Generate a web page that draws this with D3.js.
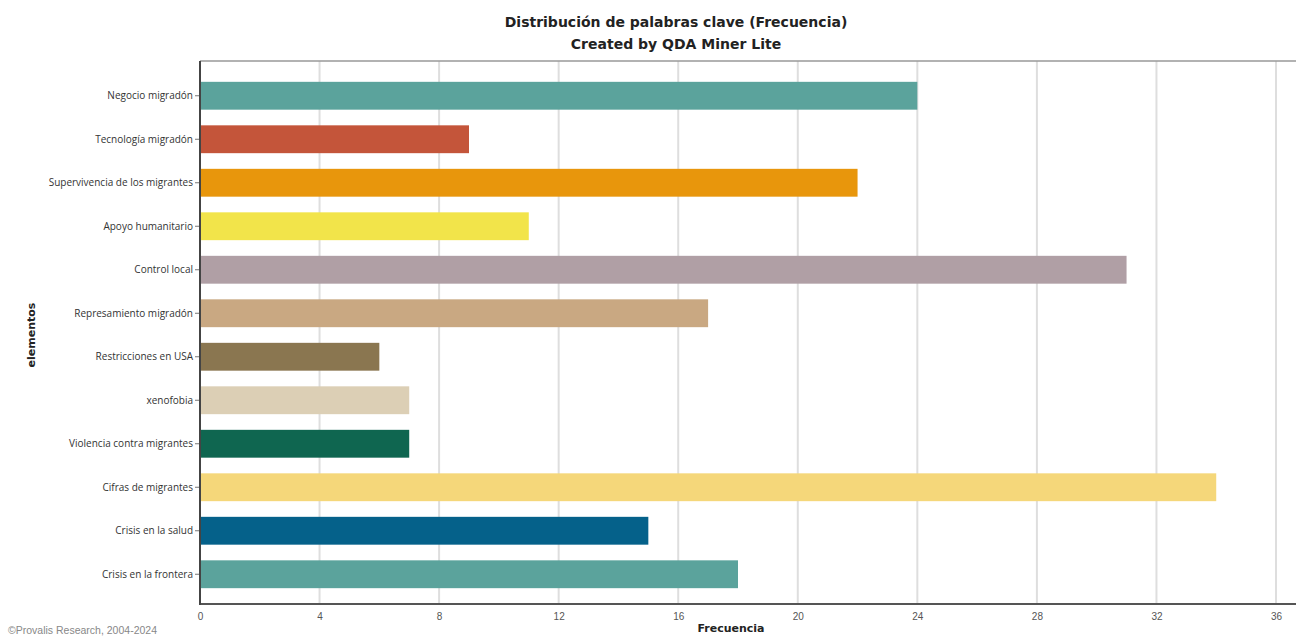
<!DOCTYPE html>
<html><head><meta charset="utf-8">
<script src="https://cdn.jsdelivr.net/npm/d3@7"></script>
<style>body{margin:0;background:#fff}svg{display:block}</style>
</head><body>
<svg id="c" width="1296" height="637"></svg>
<script>
const categories = ["Negocio migradón","Tecnología migradón","Supervivencia de los migrantes","Apoyo humanitario","Control local","Represamiento migradón","Restricciones en USA","xenofobia","Violencia contra  migrantes","Cifras de migrantes","Crisis en la salud","Crisis en la frontera"];
const values = [24, 9, 22, 11, 31, 17, 6, 7, 7, 34, 15, 18];
const colors = ["#5ba39c","#c4553a","#e8960c","#f2e44a","#b09fa5","#c9a882","#8a7650","#dccfb5","#0f6650","#f5d77a","#05618a","#5ba39c"];
const xTicks = [0,4,8,12,16,20,24,28,32,36];

const svg = d3.select("#c");
const L = 200, R = 1296, T = 61, B = 604;
const x = d3.scaleLinear().domain([0, 36]).range([L, 1276]);
const y = d3.scaleBand().domain(categories).range([74, 596]).paddingInner(0.36).paddingOuter(0.18);

// grid
svg.append("g").selectAll("line").data(xTicks.slice(1)).join("line")
  .attr("x1", d => x(d)).attr("x2", d => x(d)).attr("y1", T).attr("y2", B)
  .attr("stroke", "#dedede").attr("stroke-width", 2);
// top border
svg.append("line").attr("x1", L).attr("x2", R).attr("y1", T).attr("y2", T).attr("stroke", "#999").attr("stroke-width", 1.5);

// bars
svg.append("g").selectAll("rect").data(categories).join("rect")
  .attr("x", x(0)).attr("y", d => y(d))
  .attr("width", (d, i) => x(values[i]) - x(0)).attr("height", y.bandwidth())
  .attr("fill", (d, i) => colors[i]);

// x axis
const xa = svg.append("g").attr("transform", `translate(0,${B})`)
  .call(d3.axisBottom(x).tickValues(xTicks).tickSize(0).tickPadding(9));
xa.select(".domain").remove();
svg.append("line").attr("x1", L).attr("x2", R).attr("y1", B).attr("y2", B).attr("stroke", "#555").attr("stroke-width", 2);
xa.selectAll("text").attr("font-family", "Liberation Sans, Arial, sans-serif").attr("font-size", 10).attr("fill", "#555");

// y axis
const ya = svg.append("g").attr("transform", `translate(${L},0)`)
  .call(d3.axisLeft(y).tickSize(5).tickPadding(2));
ya.select(".domain").remove();
ya.selectAll(".tick line").attr("stroke", "#777");
ya.selectAll("text").attr("font-family", "Open Sans, sans-serif").attr("font-size", 10).attr("fill", "#333").attr("dy", "0.35em");
svg.append("line").attr("x1", L).attr("x2", L).attr("y1", T).attr("y2", B + 1).attr("stroke", "#444").attr("stroke-width", 2);

// titles
const tf = "DejaVu Sans, sans-serif";
svg.append("text").attr("x", 676).attr("y", 27).attr("text-anchor", "middle")
  .attr("font-family", tf).attr("font-weight", "bold").attr("font-size", 14).attr("fill", "#222")
  .text("Distribución de palabras clave (Frecuencia)");
svg.append("text").attr("x", 676).attr("y", 49).attr("text-anchor", "middle")
  .attr("font-family", tf).attr("font-weight", "bold").attr("font-size", 14).attr("fill", "#222")
  .text("Created by QDA Miner Lite");

svg.append("text").attr("x", 731).attr("y", 632).attr("text-anchor", "middle")
  .attr("font-family", tf).attr("font-weight", "bold").attr("font-size", 11).attr("fill", "#222")
  .text("Frecuencia");
svg.append("text").attr("transform", "translate(35,335) rotate(-90)").attr("text-anchor", "middle")
  .attr("font-family", tf).attr("font-weight", "bold").attr("font-size", 11).attr("fill", "#222")
  .text("elementos");
svg.append("text").attr("x", 8).attr("y", 634)
  .attr("font-family", "Liberation Sans, Arial, sans-serif").attr("font-size", 10.5).attr("fill", "#888")
  .text("©Provalis Research, 2004-2024");
</script>
</body></html>
